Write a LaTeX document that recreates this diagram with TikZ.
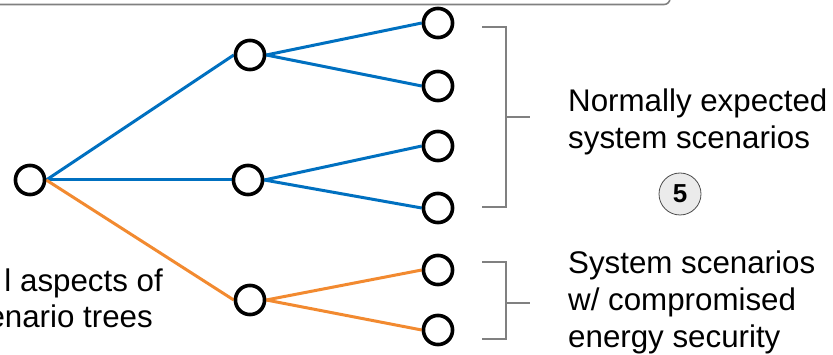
\documentclass[tikz,border=0pt]{standalone}
\usepackage{fontspec}
\setmainfont{Liberation Sans}
\definecolor{treeblue}{HTML}{0070C0}
\definecolor{treeorange}{HTML}{F28A30}
\definecolor{brgray}{HTML}{808080}
\begin{document}
\begin{tikzpicture}[x=1pt,y=-1pt,
  vtx/.style={circle,draw=black,line width=3.5pt,fill=white,minimum size=29pt,inner sep=0pt},
  bedge/.style={treeblue,line width=3pt},
  oedge/.style={treeorange,line width=3pt},
  brk/.style={brgray,line width=1.6pt},
  lbl/.style={font=\fontsize{31.3}{37}\selectfont,inner sep=0pt,anchor=base west},
  lbll/.style={font=\fontsize{31.3}{37}\selectfont,inner sep=0pt,anchor=base east},
  badge/.style={circle,draw=black!70,line width=0.8pt,fill=black!8,minimum size=42pt,inner sep=0pt,font=\bfseries\fontsize{26}{30}\selectfont}
]
\useasboundingbox (0,0) rectangle (833,355);

% top frame remnant
\draw[brk,rounded corners=6pt] (-10,4.5) -- (670,4.5) -- (670,-12);

% vertices
\node[vtx] (root) at (30,180) {};
\node[vtx] (m1) at (250,55) {};
\node[vtx] (m2) at (248,180) {};
\node[vtx] (m3) at (250,300) {};
\node[vtx] (l1) at (438,23) {};
\node[vtx] (l2) at (438,86) {};
\node[vtx] (l3) at (438,146) {};
\node[vtx] (l4) at (438,208) {};
\node[vtx] (l5) at (438,270) {};
\node[vtx] (l6) at (438,330) {};

% edges
\draw[bedge] (root.east) -- (m1.west);
\draw[bedge] (root.east) -- (m2.west);
\draw[oedge] (root.east) -- (m3.west);
\draw[bedge] (m1.east) -- (l1.west);
\draw[bedge] (m1.east) -- (l2.west);
\draw[bedge] (m2.east) -- (l3.west);
\draw[bedge] (m2.east) -- (l4.west);
\draw[oedge] (m3.east) -- (l5.west);
\draw[oedge] (m3.east) -- (l6.west);

% redraw vertices on top of the edges
\foreach \p in {(30,180),(250,55),(248,180),(250,300),(438,23),(438,86),(438,146),(438,208),(438,270),(438,330)}
  \node[vtx] at \p {};

% brackets
\coordinate (b1t) at (482,27);
\coordinate (b1b) at (482,207);
\coordinate (b1m) at (530,117);
\draw[brk] (b1t) -- (506,27) -- (506,207) -- (b1b);
\draw[brk] (506,117) -- (b1m);
\coordinate (b2t) at (482,262);
\coordinate (b2b) at (482,339);
\coordinate (b2m) at (530,303);
\draw[brk] (b2t) -- (506,262) -- (506,339) -- (b2b);
\draw[brk] (506,303) -- (b2m);

% labels
\node[lbl] (t1) at (568,112) {Normally expected};
\node[lbl] (t2) at (568,149) {system scenarios};
\node[badge] (five) at (680,194) {5};
\node[lbl] (t3) at (568,274) {System scenarios};
\node[lbl] (t4) at (568,311) {w/ compromised};
\node[lbl] (t5) at (568,348) {energy security};
\node[lbll] (s1) at (163,292) {l aspects of};
\node[lbll] (s2) at (153,328) {enario trees};
\end{tikzpicture}
\end{document}
